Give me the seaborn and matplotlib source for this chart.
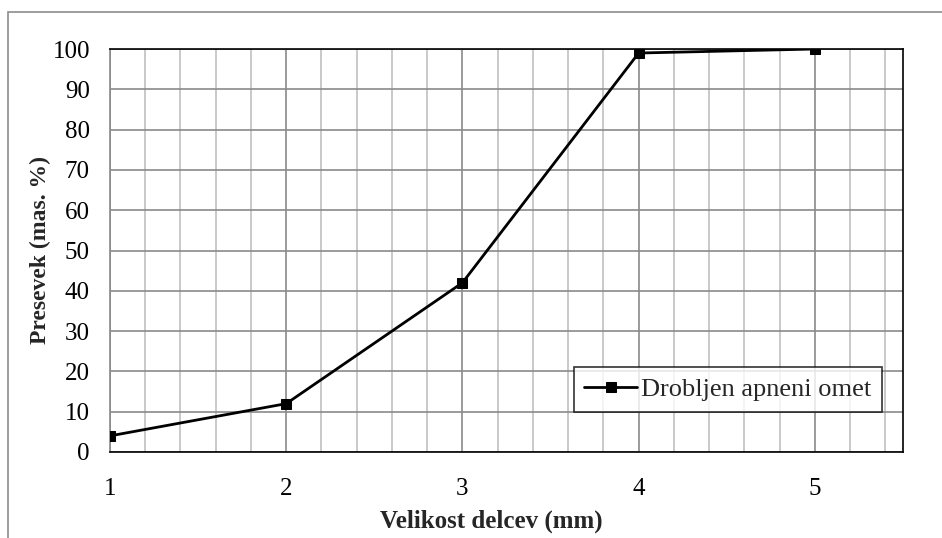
import matplotlib
matplotlib.use("Agg")
import matplotlib.pyplot as plt
import seaborn as sns
import pandas as pd
import numpy as np
from matplotlib.patches import Rectangle
from matplotlib.ticker import MultipleLocator

size_mm = [1, 2, 3, 4, 5]
passing = [4, 12, 42, 99, 100]
series_name = "Drobljen apneni omet"

sns.set_theme(style="white")
plt.rcParams['font.family'] = ['Liberation Serif', 'DejaVu Serif']

df = pd.DataFrame({"x": size_mm, "y": passing, "s": series_name})

fig = plt.figure(figsize=(9.42, 5.38), dpi=100)
ax = fig.add_axes([110/942, 1-452/538, (903-110)/942, (452-49)/538])

# outer frame
fig.patches.append(Rectangle((8/942, -0.1), 1.2, 1 - 12/538 + 0.1, transform=fig.transFigure,
                             fill=False, edgecolor="#8c8c8c", linewidth=1.2))

sns.lineplot(data=df, x="x", y="y", hue="s", palette=["black"], marker="s",
             markersize=6.5, linewidth=2.0, ax=ax, markeredgecolor="black", zorder=5)

ax.set_xlim(1, 5.5)
ax.set_ylim(0, 100)
ax.xaxis.set_major_locator(MultipleLocator(1))
ax.xaxis.set_minor_locator(MultipleLocator(0.2))
ax.yaxis.set_major_locator(MultipleLocator(10))
ax.grid(which="major", axis="both", color="#8a8a8a", linewidth=1.2)
ax.grid(which="minor", axis="x", color="#c0c0c0", linewidth=1.2)
ax.set_axisbelow(True)

for s in ["top", "right", "bottom"]:
    ax.spines[s].set_color("black")
    ax.spines[s].set_linewidth(1.2)
ax.spines["left"].set_color("#8a8a8a")
ax.spines["left"].set_linewidth(1.2)

ax.tick_params(axis="both", which="major", direction="out", length=5.5, width=1.2,
               color="#8a8a8a", labelsize=18, labelcolor="black")
ax.tick_params(axis="x", which="major", pad=13.5)
ax.tick_params(axis="y", which="major", pad=9)
ax.tick_params(axis="x", which="minor", length=0)

ax.set_xlabel("Velikost delcev (mm)", fontsize=18, fontweight="bold")
ax.set_ylabel("Presevek (mas. %)", fontsize=17, fontweight="bold")
ax.xaxis.set_label_coords((491-110)/793, (452-510)/403)
ax.yaxis.set_label_coords((51-110)/793, 0.5)

leg = ax.legend(loc="lower right", bbox_to_anchor=((882-110)/793, (452-412)/403),
                fontsize=19, frameon=True, fancybox=False, edgecolor="black",
                handlelength=2.0, handletextpad=0.15, borderpad=0.4, borderaxespad=0)
leg.get_frame().set_linewidth(1.2)
leg.get_frame().set_facecolor("white")
leg.set_zorder(10)

fig.savefig("out.png", dpi=100)
